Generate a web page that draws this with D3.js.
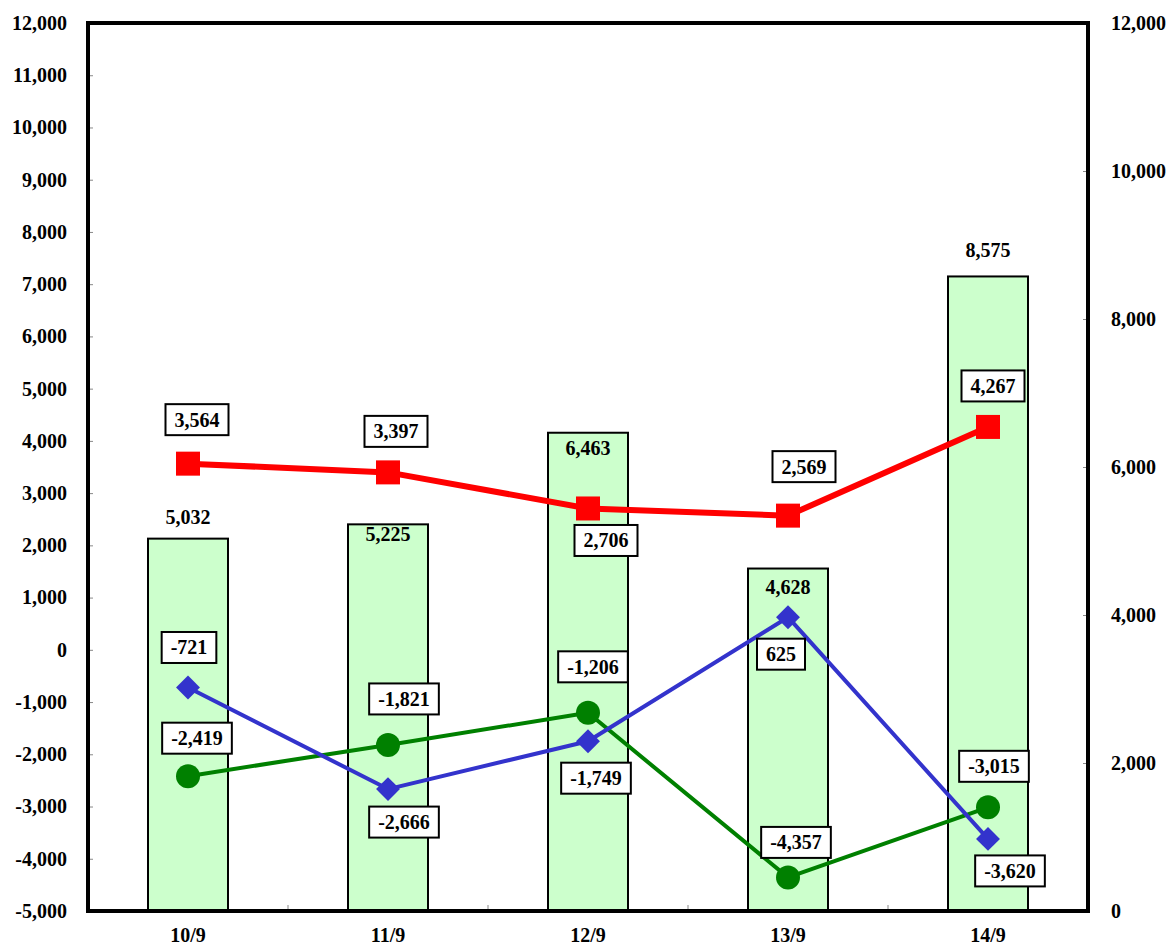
<!DOCTYPE html>
<html>
<head>
<meta charset="utf-8">
<script src="https://cdn.jsdelivr.net/npm/d3@7"></script>
<style>
html,body{margin:0;padding:0;background:#fff;}
svg{display:block;}
text{font-family:"Liberation Serif","Times New Roman",serif;font-weight:bold;fill:#000;}
</style>
</head>
<body>
<svg id="chart" width="1170" height="947"></svg>
<script>
// ---- data ----
const categories = ["10/9","11/9","12/9","13/9","14/9"];
const barValues = [5032, 5225, 6463, 4628, 8575];          // right axis
const redValues = [3564, 3397, 2706, 2569, 4267];          // left axis, squares
const blueValues = [-721, -2666, -1749, 625, -3620];       // left axis, diamonds
const greenValues = [-2419, -1821, -1206, -4357, -3015];   // left axis, circles
const leftTicks = [-5000,-4000,-3000,-2000,-1000,0,1000,2000,3000,4000,5000,6000,7000,8000,9000,10000,11000,12000];
const rightTicks = [0,2000,4000,6000,8000,10000,12000];

// ---- label offsets (pixels, relative to mark) ----
const barLabelOff = [[0,-22],[0,10],[0,15],[0,18],[0,-26]];
const redLabelOff = [[9,-44],[8,-41],[18,32],[16,-49],[5,-41]];
const blueLabelOff = [[1,-40],[16,33],[8,37],[-7,37],[22,32]];
const greenLabelOff = [[9,-38],[16,-46],[5,-46],[8,-35],[6,-41]];

const svg = d3.select("#chart");
const L = 88, R = 1088, T = 23, B = 911;
const f0 = d3.format(",");
const fmt = v => f0(v).replace("\u2212", "-");

const x = d3.scaleBand().domain(categories).range([L, R]);
const yL = d3.scaleLinear().domain([-5000, 12000]).range([B, T]);
const yR = d3.scaleLinear().domain([0, 12000]).range([B, T]);
const cx = c => x(c) + x.bandwidth() / 2;

// bars
const barW = x.bandwidth() * 0.4;
svg.append("g").selectAll("rect").data(barValues).join("rect")
  .attr("x", (d,i) => cx(categories[i]) - barW/2)
  .attr("y", d => yR(d))
  .attr("width", barW)
  .attr("height", d => B - yR(d))
  .attr("fill", "#ccffcc")
  .attr("stroke", "#000")
  .attr("stroke-width", 2);

// axes
const axL = svg.append("g").attr("transform", `translate(${L},0)`)
  .call(d3.axisLeft(yL).tickValues(leftTicks).tickFormat(fmt).tickSize(-5).tickPadding(21));
const axR = svg.append("g").attr("transform", `translate(${R},0)`)
  .call(d3.axisRight(yR).tickValues(rightTicks).tickFormat(fmt).tickSize(-5).tickPadding(23));
const boundaries = categories.slice(1).map(c => x(c));
const axB = svg.append("g").attr("transform", `translate(0,${B})`)
  .call(d3.axisBottom(x).tickSize(0).tickPadding(16));
svg.append("g").selectAll("line").data(boundaries).join("line")
  .attr("x1", d => d).attr("x2", d => d).attr("y1", B).attr("y2", B - 6)
  .attr("stroke", "#888").attr("stroke-width", 1);
[axL, axR, axB].forEach(a => {
  a.select(".domain").remove();
  a.selectAll(".tick line").attr("stroke", "#888");
  a.selectAll("text").style("font-size", "20px").style("font-family", '"Liberation Serif",serif').style("font-weight", "bold");
});
axB.selectAll("text").attr("dy", "0.75em");

// frame
svg.append("rect").attr("x", L).attr("y", T).attr("width", R - L).attr("height", B - T)
  .attr("fill", "none").attr("stroke", "#000").attr("stroke-width", 4);

// lines
function drawLine(vals, color, w) {
  const line = d3.line().x((d,i) => cx(categories[i])).y(d => yL(d));
  svg.append("path").datum(vals).attr("d", line)
    .attr("fill", "none").attr("stroke", color).attr("stroke-width", w).attr("stroke-linejoin", "round");
}
drawLine(greenValues, "#008000", 4);
drawLine(blueValues, "#3333cc", 4);
drawLine(redValues, "#ff0000", 6);

// markers
svg.append("g").selectAll("circle").data(greenValues).join("circle")
  .attr("cx", (d,i) => cx(categories[i])).attr("cy", d => yL(d)).attr("r", 12).attr("fill", "#008000");
svg.append("g").selectAll("path").data(blueValues).join("path")
  .attr("d", d3.symbol().type(d3.symbolDiamond2).size(27*27/2))
  .attr("transform", (d,i) => `translate(${cx(categories[i])},${yL(d)})`)
  .attr("fill", "#3333cc");
svg.append("g").selectAll("rect").data(redValues).join("rect")
  .attr("x", (d,i) => cx(categories[i]) - 12).attr("y", d => yL(d) - 12)
  .attr("width", 24).attr("height", 24).attr("fill", "#ff0000");

// bar labels (no box)
svg.append("g").selectAll("text").data(barValues).join("text")
  .attr("x", (d,i) => cx(categories[i]) + barLabelOff[i][0])
  .attr("y", (d,i) => yR(d) + barLabelOff[i][1])
  .attr("text-anchor", "middle").attr("dominant-baseline", "central")
  .style("font-size", "20px").text(d => fmt(d));

// boxed labels
function boxedLabels(vals, offs) {
  const g = svg.append("g");
  vals.forEach((v, i) => {
    const px = cx(categories[i]) + offs[i][0];
    const py = yL(v) + offs[i][1];
    const gg = g.append("g");
    const rect = gg.append("rect");
    const t = gg.append("text").attr("x", px).attr("y", py)
      .attr("text-anchor", "middle").attr("dominant-baseline", "central")
      .style("font-size", "20px").text(fmt(v));
    const w = t.node().getComputedTextLength() + 18;
    const h = 31;
    rect.attr("x", px - w/2).attr("y", py - h/2).attr("width", w).attr("height", h)
      .attr("fill", "#fff").attr("stroke", "#000").attr("stroke-width", 2);
  });
}
boxedLabels(greenValues, greenLabelOff);
boxedLabels(blueValues, blueLabelOff);
boxedLabels(redValues, redLabelOff);
</script>
</body>
</html>
